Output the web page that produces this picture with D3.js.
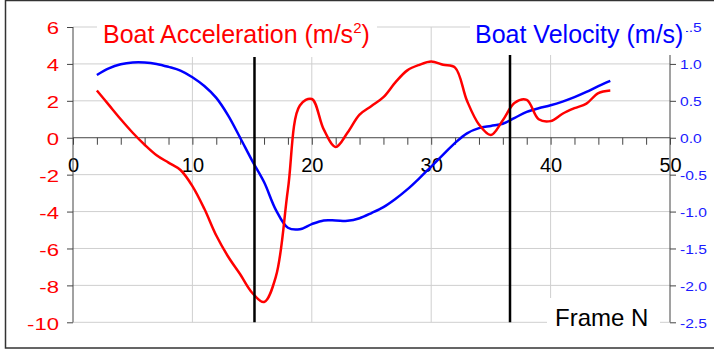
<!DOCTYPE html>
<html>
<head>
<meta charset="utf-8">
<script src="https://cdn.jsdelivr.net/npm/d3@7"></script>
<style>
  html, body { margin: 0; padding: 0; background: #fff; }
  svg { display: block; font-family: "Liberation Sans", Arial, sans-serif; }
</style>
</head>
<body>
<svg id="chart" width="714" height="349"></svg>
<script>
// Frame numbers and per-frame boat kinematics
const frames = d3.range(2, 46);
const acceleration = [
  2.56, 1.78, 1.0, 0.27, -0.38, -0.95, -1.35, -1.75, -2.62, -3.85,
  -5.3, -6.45, -7.4, -8.4, -8.9, -7.5, -2.8, 1.75, 2.1, 0.45,
  -0.5, 0.28, 1.25, 1.72, 2.2, 3.0, 3.65, 3.95, 4.13, 3.95,
  3.8, 2.0, 0.72, 0.15, 0.95, 1.9, 2.05, 1.0, 0.9, 1.3,
  1.6, 1.85, 2.42, 2.56
];
const velocity = [
  0.85, 0.94, 0.995, 1.02, 1.02, 1.0, 0.96, 0.91, 0.82, 0.70,
  0.54, 0.30, 0.0, -0.31, -0.60, -0.98, -1.22, -1.24, -1.17, -1.12,
  -1.12, -1.125, -1.09, -1.02, -0.94, -0.83, -0.70, -0.55, -0.39, -0.23,
  -0.07, 0.06, 0.13, 0.16, 0.19, 0.27, 0.35, 0.40, 0.44, 0.49,
  0.55, 0.62, 0.70, 0.77
];
// Stroke phase markers (frame positions)
const markers = [15.2, 36.6];

const xTicks = d3.range(0, 51, 2);
const accTicks = d3.range(-10, 7, 2);
const velTicks = [-2.5, -2.0, -1.5, -1.0, -0.5, 0.0, 0.5, 1.0, 1.5];

const svg = d3.select("#chart");
const plotLeft = 73, plotRight = 670, plotTop = 27, plotBottom = 322.3;

const x = d3.scaleLinear().domain([0, 50]).range([plotLeft, plotRight]);
const yA = d3.scaleLinear().domain([-10, 6]).range([plotBottom, plotTop]);
const yV = d3.scaleLinear().domain([-2.5, 1.5]).range([plotBottom, plotTop]);

// outer frame
svg.append("rect")
  .attr("x", 5.5).attr("y", 0.5).attr("width", 730).attr("height", 347.5)
  .attr("fill", "#fff").attr("stroke", "#333").attr("stroke-width", 1.5);

// gridlines
const grid = svg.append("g").attr("stroke", "#cfcfcf").attr("stroke-width", 1);
grid.selectAll("line.h").data(accTicks.filter(d => d !== 0)).join("line")
  .attr("class", "h")
  .attr("x1", plotLeft).attr("x2", plotRight)
  .attr("y1", d => yA(d)).attr("y2", d => yA(d));
grid.selectAll("line.v").data([10, 20, 30, 40]).join("line")
  .attr("class", "v")
  .attr("x1", d => x(d)).attr("x2", d => x(d))
  .attr("y1", plotTop).attr("y2", plotBottom);

// axes
const axisColor = "#444";
const gx = svg.append("g").attr("transform", `translate(0,${yA(0)})`)
  .call(d3.axisBottom(x).tickValues(xTicks).tickSize(7).tickPadding(13.5)
    .tickFormat(d => (d % 10 === 0 ? String(d) : "")));
gx.select(".domain").attr("stroke", axisColor).attr("d", `M${plotLeft},0H${plotRight}`);
gx.selectAll(".tick line").attr("stroke", axisColor);
gx.selectAll(".tick text").attr("fill", "#000").attr("font-size", 20)
  .attr("font-family", "Liberation Sans, Arial, sans-serif");

const gl = svg.append("g").attr("transform", `translate(${plotLeft},0)`)
  .call(d3.axisLeft(yA).tickValues(accTicks).tickSize(6).tickFormat(d => String(d)));
gl.select(".domain").attr("stroke", axisColor).attr("d", `M0,${plotTop}V${plotBottom}`);
gl.selectAll(".tick line").attr("stroke", axisColor);
gl.selectAll(".tick text")
  .attr("x", null).attr("dy", "0.4em")
  .attr("transform", "translate(-14,0) scale(1.3,1)")
  .attr("fill", "#ff0000").attr("font-size", 17)
  .attr("font-family", "Liberation Sans, Arial, sans-serif");

const gr = svg.append("g").attr("transform", `translate(${plotRight},0)`)
  .call(d3.axisRight(yV).tickValues(velTicks).tickSize(6).tickFormat(d => d.toFixed(1)));
gr.select(".domain").attr("stroke", axisColor).attr("d", `M0,${plotTop}V${plotBottom}`);
gr.selectAll(".tick line").attr("stroke", axisColor);
gr.selectAll(".tick text")
  .attr("x", null).attr("dy", "0.4em")
  .attr("transform", "translate(10,0) scale(1.3,1)")
  .attr("fill", "#1a1aff").attr("font-size", 12)
  .attr("font-family", "Liberation Sans, Arial, sans-serif");

// curves
const curve = d3.curveCatmullRom.alpha(0.5);
svg.append("path")
  .datum(frames.map((f, i) => [f, velocity[i]]))
  .attr("fill", "none").attr("stroke", "#0000ff").attr("stroke-width", 2.5)
  .attr("d", d3.line().x(d => x(d[0])).y(d => yV(d[1])).curve(curve));
svg.append("path")
  .datum(frames.map((f, i) => [f, acceleration[i]]))
  .attr("fill", "none").attr("stroke", "#ff0000").attr("stroke-width", 2.5)
  .attr("d", d3.line().x(d => x(d[0])).y(d => yA(d[1])).curve(curve));

// phase markers
svg.selectAll("line.marker").data(markers).join("line")
  .attr("class", "marker")
  .attr("x1", d => x(d)).attr("x2", d => x(d))
  .attr("y1", plotTop).attr("y2", plotBottom)
  .attr("stroke", "#000").attr("stroke-width", 2.5);

// titles on white boxes
svg.append("rect").attr("x", 97).attr("y", 8).attr("width", 280).attr("height", 49).attr("fill", "#fff");
svg.append("rect").attr("x", 470).attr("y", 8).attr("width", 216).attr("height", 47).attr("fill", "#fff");
svg.append("rect").attr("x", 547).attr("y", 298).attr("width", 113).attr("height", 38).attr("fill", "#fff");

const t1 = svg.append("text").attr("x", 103).attr("y", 43)
  .attr("fill", "#ff0000").attr("font-size", 25);
t1.append("tspan").text("Boat Acceleration (m/s");
t1.append("tspan").attr("font-size", 15).attr("dy", -10).text("2");
t1.append("tspan").attr("dy", 10).text(")");

svg.append("text").attr("x", 475).attr("y", 42.5)
  .attr("fill", "#0000ff").attr("font-size", 25)
  .text("Boat Velocity (m/s)");

svg.append("text").attr("x", 555).attr("y", 326)
  .attr("fill", "#000").attr("font-size", 24)
  .text("Frame N");
</script>
</body>
</html>
